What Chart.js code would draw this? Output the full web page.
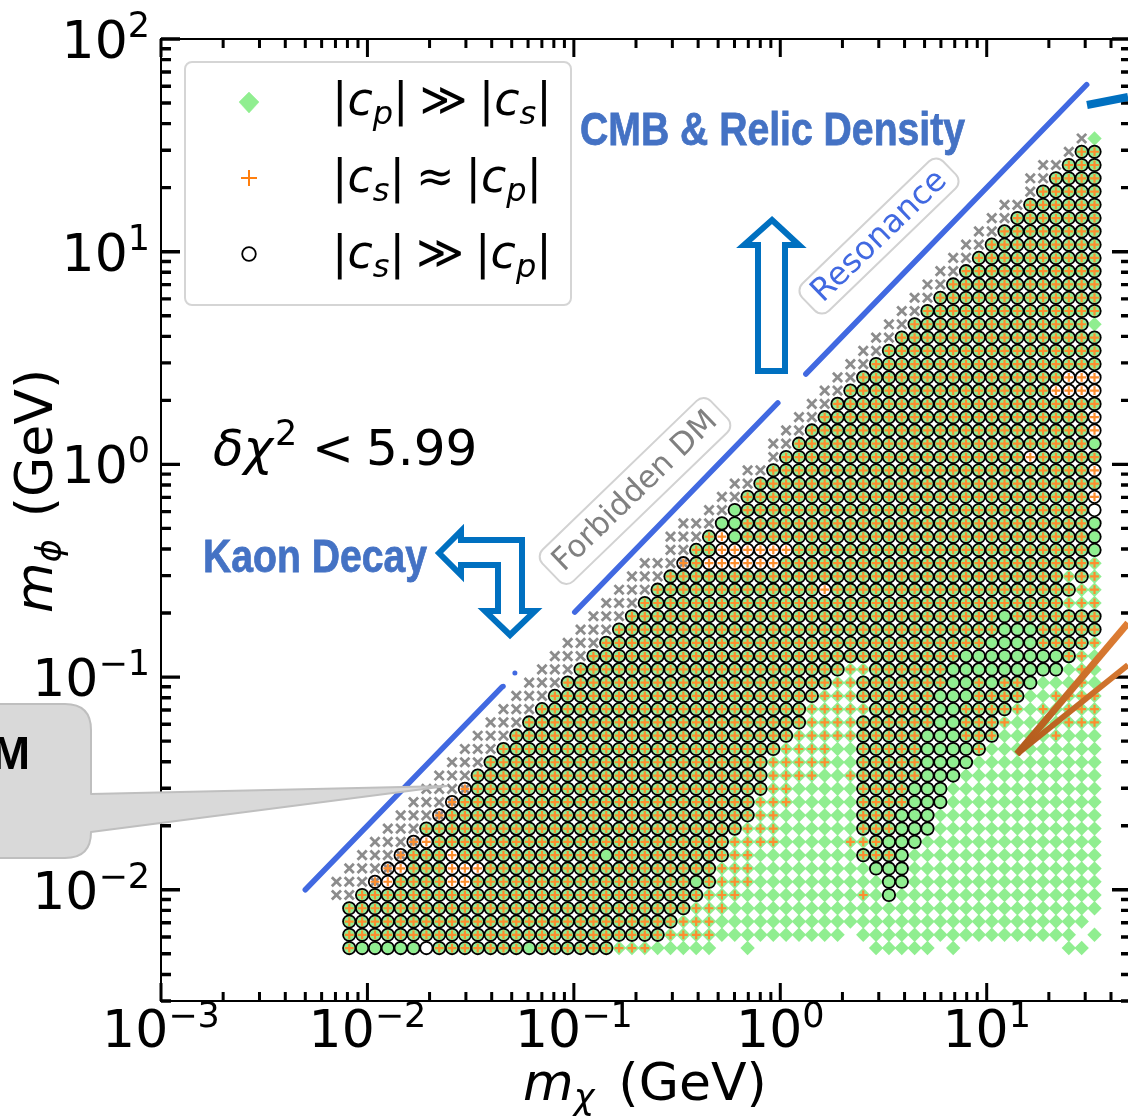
<!DOCTYPE html>
<html><head><meta charset="utf-8">
<style>html,body{margin:0;padding:0;background:#fff;overflow:hidden;width:1128px;height:1116px}canvas{display:block}</style>
<script src="https://cdn.jsdelivr.net/npm/chart.js@4/dist/chart.umd.min.js"></script>
</head><body><canvas id="c" width="1200" height="1116" style="width:1200px;height:1116px"></canvas>
<script>
// m_chi grid (GeV), first entry is column -1
const massChi = [.007076,.008166,.009425,.01088,.01255,.01449,.01672,.01930,.02227,.02570,.02966,.03423,.03951,.04560,.05263,.06074,.07010,.08090,.09337,.1078,.1244,.1435,.1656,.1912,.2206,.2546,.2939,.3392,.3914,.4517,.5214,.6017,.6944,.8014,.9249,1.067,1.232,1.422,1.641,1.894,2.186,2.523,2.911,3.360,3.878,4.475,5.165,5.961,6.880,7.940,9.164,10.58,12.20,14.08,16.26,18.76,21.65,24.99,28.84,33.28];
// m_phi grid (GeV), bottom row first
const massPhi = [.005321,.006143,.007092,.008188,.009453,.01091,.01260,.01455,.01680,.01939,.02239,.02585,.02984,.03445,.03977,.04592,.05301,.06120,.07066,.08157,.09418,.1087,.1255,.1449,.1673,.1932,.2230,.2575,.2973,.3432,.3962,.4574,.5281,.6097,.7039,.8127,.9382,1.083,1.251,1.444,1.667,1.925,2.222,2.565,2.962,3.419,3.948,4.558,5.262,6.075,7.013,8.097,9.348,10.79,12.46,14.39,16.61,19.17,22.14,25.56,29.51,34.07];
// Cells, run-length per row.
// D diamond | P diamond+plus | C diamond+ring | A diamond+plus+ring | W plus+ring | O ring | X excluded | G excluded+plus+ring
const gridRows = [
".1A1C5O1A7C1A6P3D5.2D1.9D5.1D1.8D2",".1A25P4D10.1D17.1D1",".1A26P3D29",".1A27P3D29",
"X2A27P3D9P1D1C1D16","X3G1W1A4W2A17C1A1P3D10C2D15",".1X3G1W1A3W3A18P3D9C3D15",".2X3G1A3W1A11C1A9P2D8A3C1D15",
".3X3G1W1A23P4D5P2A1C3D14",".4X3A25P3D6A3C3D13",".5X3G1A24P2D6A3C3D13",".6X3G1A23P3D5A4C3D12",
".7X3G1A23P2D5A4C3D12",".8X3A23P4D2P1A5C3D11",".9X3A22P5D2A5C4D10",".10X3A22P4D2A5C4A1D9",
".11X3A22P5A5C3A3D4P1D3",".12X3A22P4A6C2A3P1D4P3",".13X3A21P5A5C2A4P1D1P1D1P3",".14X3A21P3A6C3A4D2P4",
".15X3A21P2A7C2A1C1A2C1D3P1D1",".16X3A21P2A6C9D1P1D1",".17X3A29C8A1P1D1",".18X3A30C4A4P1",
".19X3A30C3A5",".20X3A29C1A7",".21X3A33P3",".22X3A13W1A19P2",".23X3A31P1A1P1",".24X3G1A1W6A24P1",
".26X2A2W6A23C1",".26X3A1W1C1A27C1",".27X3C2A27C1",".29X2C1A27O1",".30X2A27W1",".31X2A27",
".32X2A25W1",".34X1A19W1A5",".34X2A23C1",".35X2A22W1",".36X2A21W1",".37X2A21",".38X2A16W4",
".39X2A16W3",".40X2A18",".41X2A17",".42X2A16",".43X2A14D1",".44X2A14",".45X2A13",".46X2A12",
".47X2A11",".48X2A10",".49X2A9",".50X2A8",".51X2A7",".52X2A6",".54X1A5",".54X2A4",".55X2A3",".57X1A2",".58X1D1"];
// m_phi = 2 m_chi segments
const lineAX = [.005,.0448],  lineAY = [.01,.0897];
const lineBX = [.101,.973],   lineBY = [.202,1.946];
const lineCX = [1.33,30.5],   lineCY = [2.66,61];
const dotsX = [.0455,.0518],  dotsY = [.0905,.1045];
const xDecades = [-3,-2,-1,0,1];
const yDecades = [-2,-1,0,1,2];
const minorMult = [2,3,4,5,6,7,8,9];
const legendTexts = [["|","c","p","|","≫","|","c","s","|"],["|","c","s","|","≈","|","c","p","|"],["|","c","s","|","≫","|","c","p","|"]];

const diamonds=[],pluses=[],rings=[],crosses=[];
gridRows.forEach((row,r)=>{
  let col=0;
  for(const m of row.matchAll(/([.A-Z])(\d+)/g)){
    for(let k=0;k<+m[2];k++,col++){
      const p={x:massChi[col],y:massPhi[r]},t=m[1];
      if("DPCA".includes(t))diamonds.push(p);
      if("PAWG".includes(t))pluses.push(p);
      if("CAWOG".includes(t))rings.push(p);
      if("XG".includes(t))crosses.push(p);
    }
  }
});
const DJ="'DejaVu Sans'",LS="'Liberation Sans'";
function pw(ctx,font,t){ctx.font=font;return ctx.measureText(t).width;}
function powerLabel(ctx,x,y,e,align,rise){
  const base="52px "+DJ,sup="35px "+DJ,es=e<0?"\u2212"+(-e):""+e;
  const w1=pw(ctx,base,"10"),w2=pw(ctx,sup,es),W=w1+w2;
  const x0=align==="center"?x-W/2:x-W;
  ctx.textAlign="left";ctx.fillStyle="#000";
  ctx.font=base;ctx.fillText("10",x0,y);
  ctx.font=sup;ctx.fillText(es,x0+w1,y-rise);
}
function math(ctx,x,y,parts){
  ctx.textAlign="left";
  for(const [t,f,dy,gap] of parts){
    ctx.font=f;ctx.fillText(t,x,y+(dy||0));
    x+=ctx.measureText(t).width+(gap||0);
  }
}
function fitText(ctx,t,font,x,y,w,color){
  ctx.save();ctx.font=font;ctx.fillStyle=color;ctx.strokeStyle=color;ctx.lineWidth=0.8;ctx.textAlign="left";
  const mw=ctx.measureText(t).width;
  ctx.translate(x,y);ctx.scale(w/mw,1);ctx.fillText(t,0,0);ctx.strokeText(t,0,0);ctx.restore();
}
function poly(ctx,pts,stroke,lw,fill){
  ctx.beginPath();pts.forEach((p,i)=>i?ctx.lineTo(p[0],p[1]):ctx.moveTo(p[0],p[1]));ctx.closePath();
  if(fill){ctx.fillStyle=fill;ctx.fill();}
  ctx.strokeStyle=stroke;ctx.lineWidth=lw;ctx.lineJoin="miter";ctx.stroke();
}
function rotBox(ctx,cx,cy,ang,w,h,text,size,color){
  ctx.save();ctx.translate(cx,cy);ctx.rotate(ang*Math.PI/180);
  ctx.beginPath();ctx.roundRect(-w/2,-h/2,w,h,10);ctx.fillStyle="#fff";ctx.fill();
  ctx.strokeStyle="#d2d2d2";ctx.lineWidth=2;ctx.stroke();
  ctx.font=size+"px "+DJ;ctx.fillStyle=color;ctx.textAlign="center";ctx.textBaseline="middle";
  ctx.fillText(text,0,1);ctx.restore();
}
const decor={id:"decor",
  afterDatasetsDraw(chart){
    const ctx=chart.ctx,X=chart.scales.x,Y=chart.scales.y,a=chart.chartArea;
    ctx.save();ctx.textBaseline="alphabetic";
    // ticks
    ctx.strokeStyle="#000";ctx.lineCap="butt";
    const xt=(v,l)=>{const p=X.getPixelForValue(v);if(p<a.left-1||p>a.right+1)return;
      ctx.lineWidth=3;ctx.beginPath();ctx.moveTo(p,a.bottom);ctx.lineTo(p,a.bottom-l);ctx.moveTo(p,a.top);ctx.lineTo(p,a.top+l);ctx.stroke();};
    const yt=(v,l)=>{const p=Y.getPixelForValue(v);if(p<a.top-1||p>a.bottom+1)return;
      ctx.lineWidth=3.4;ctx.beginPath();ctx.moveTo(a.left,p);ctx.lineTo(a.left+l,p);ctx.moveTo(a.right,p);ctx.lineTo(a.right-l,p);ctx.stroke();};
    xDecades.forEach(e=>{xt(10**e,18);minorMult.forEach(m=>xt(m*10**e,9));});
    [-3].concat(yDecades).forEach(e=>{yt(10**e,19);minorMult.forEach(m=>yt(m*10**e,10));});
    ctx.lineWidth=2;ctx.strokeRect(a.left,a.top,a.right-a.left,a.bottom-a.top);
    // tick labels
    xDecades.forEach(e=>powerLabel(ctx,X.getPixelForValue(10**e),1047,e,"center",20));
    yDecades.forEach(e=>powerLabel(ctx,150,Y.getPixelForValue(10**e)+19,e,"right",21));
    // axis titles
    ctx.fillStyle="#000";
    const f="52px "+DJ,fi="italic 52px "+DJ,fs="italic 35px "+DJ;
    math(ctx,523,1100,[["m",fi],["\u03C7",fs,9,24],["(GeV)",f]]);
    ctx.save();ctx.translate(52,613);ctx.rotate(-Math.PI/2);
    math(ctx,0,0,[["m",fi],["\u03D5",fs,9,22],["(GeV)",f]]);ctx.restore();
    // legend
    ctx.beginPath();ctx.roundRect(185,62,386,243,7);ctx.fillStyle="#fff";ctx.fill();
    ctx.strokeStyle="#d5d5d5";ctx.lineWidth=2;ctx.stroke();
    poly(ctx,[[249,92],[259,102],[249,113],[239,102]],"#90ee90",0.5,"#90ee90");
    ctx.strokeStyle="#ff7f0e";ctx.lineWidth=2;ctx.beginPath();ctx.moveTo(241,178);ctx.lineTo(257,178);ctx.moveTo(249,170);ctx.lineTo(249,186);ctx.stroke();
    ctx.strokeStyle="#000";ctx.lineWidth=1.8;ctx.beginPath();ctx.arc(249,254,6.8,0,7);ctx.stroke();
    const ln="46px "+DJ,li="italic 46px "+DJ,ls="italic 32px "+DJ;
    ctx.fillStyle="#000";
    [115,192,268].forEach((b,i)=>{const t=legendTexts[i];
      math(ctx,332,b,[[t[0],ln],[t[1],li],[t[2],ls,9],[t[3],ln,0,11],[t[4],ln,0,11],[t[5],ln],[t[6],li],[t[7],ls,9],[t[8],ln]]);});
    // delta chi
    const dn="50px "+DJ,di="italic 50px "+DJ;
    ctx.fillStyle="#000";
    math(ctx,213,465,[["\u03B4",di],["\u03C7",di]]);
    ctx.font="35px "+DJ;ctx.fillText("2",275,445);
    ctx.font=dn;ctx.fillText("<",312,465);ctx.fillText("5.99",366,465);
    // bold headings
    fitText(ctx,"CMB & Relic Density","bold 47px "+LS,580,145,385,"#4472c4");
    fitText(ctx,"Kaon Decay","bold 47px "+LS,203,572,224,"#4472c4");
    // hollow arrows
    poly(ctx,[[772,220],[799,245],[785,245],[785,371],[758,371],[758,245],[744,245]],"#0070c0",6,"#fff");
    poly(ctx,[[439,553],[461,531],[461,540],[522,540],[522,611],[535,611],[510,635],[485,611],[498,611],[498,565],[461,565],[461,575]],"#0070c0",6,"#fff");
    // rotated boxes
    rotBox(ctx,879,236,-44,196,38,"Resonance",32,"#4169e1");
    rotBox(ctx,635,491,-44,234,44,"Forbidden DM",31,"#808080");
    // callout
    ctx.beginPath();
    ctx.moveTo(-20,704);ctx.lineTo(65,704);ctx.quadraticCurveTo(91,704,91,730);ctx.lineTo(91,794);
    ctx.lineTo(447,786);ctx.lineTo(91,832);ctx.quadraticCurveTo(91,858,65,858);ctx.lineTo(-20,858);ctx.closePath();
    ctx.fillStyle="#d9d9d9";ctx.fill();ctx.strokeStyle="#bfbfbf";ctx.lineWidth=2;ctx.lineJoin="round";ctx.stroke();
    ctx.fillStyle="#000";ctx.font="bold 46px "+LS;ctx.textAlign="right";ctx.fillText("DM",30,769);
    // coloured leader lines
    ctx.lineCap="butt";
    const g=ctx.createLinearGradient(1016,754,1128,620);g.addColorStop(0,"#b05a1c");g.addColorStop(1,"#e07f35");
    ctx.strokeStyle=g;
    ctx.lineWidth=7;ctx.beginPath();ctx.moveTo(1017,754);ctx.lineTo(1128,623);ctx.stroke();
    ctx.lineWidth=6;ctx.beginPath();ctx.moveTo(1017,754);ctx.lineTo(1128,665);ctx.stroke();
    ctx.strokeStyle="#0070c0";ctx.lineWidth=8;ctx.beginPath();ctx.moveTo(1087,105);ctx.lineTo(1128,97);ctx.stroke();
    ctx.restore();
  }};
const pts=(xs,ys)=>xs.map((x,i)=>({x,y:ys[i]}));
const lineDs=(xs,ys)=>({data:pts(xs,ys),showLine:true,borderColor:"#4169e1",borderWidth:5.5,borderCapStyle:"round",pointRadius:0,order:1});
const flat=s=>{s.width=s.isHorizontal()?s.width:0;s.height=s.isHorizontal()?0:s.height;};
new Chart(document.getElementById("c"),{
  type:"scatter",
  data:{datasets:[
    {label:"excluded",data:crosses,pointStyle:"crossRot",pointRadius:6.5,pointBorderColor:"#8c8c8c",pointBorderWidth:2.8,pointBackgroundColor:"transparent",order:6},
    {label:"|cp| >> |cs|",data:diamonds,pointStyle:"rectRot",pointRadius:7.2,pointBackgroundColor:"#90ee90",pointBorderWidth:0,order:5},
    {label:"|cs| ~ |cp|",data:pluses,pointStyle:"cross",pointRadius:4.4,pointBorderColor:"#fd8d2f",pointBackgroundColor:"transparent",pointBorderWidth:2.2,order:4},
    {label:"|cs| >> |cp|",data:rings,pointStyle:"circle",pointRadius:6.2,pointBorderColor:"#000",pointBorderWidth:1.8,pointBackgroundColor:"transparent",order:3},
    lineDs(lineAX,lineAY),lineDs(lineBX,lineBY),lineDs(lineCX,lineCY),
    {label:"dots",data:pts(dotsX,dotsY),pointRadius:2.5,pointBackgroundColor:"#4169e1",pointBorderWidth:0,order:1}
  ]},
  options:{
    responsive:false,animation:false,devicePixelRatio:1,
    layout:{padding:{left:161,top:39,right:69,bottom:115}},
    plugins:{legend:{display:false},tooltip:{enabled:false}},
    events:[],
    scales:{
      x:{type:"logarithmic",min:.001,max:50,afterFit:flat,grid:{display:false,drawTicks:false},border:{display:false},ticks:{display:false}},
      y:{type:"logarithmic",min:.003,max:100,afterFit:flat,grid:{display:false,drawTicks:false},border:{display:false},ticks:{display:false}}
    }
  },
  plugins:[decor]
});
</script></body></html>
